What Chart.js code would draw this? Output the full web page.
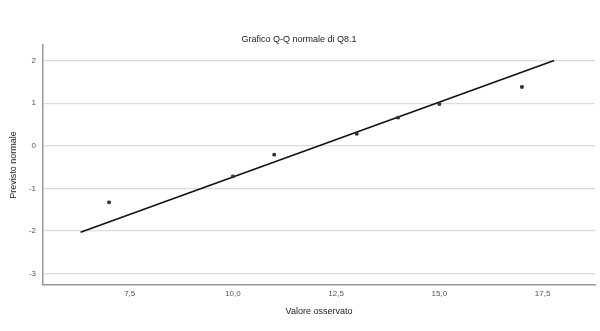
<!DOCTYPE html>
<html>
<head>
<meta charset="utf-8">
<script src="https://cdn.jsdelivr.net/npm/chart.js@4/dist/chart.umd.min.js"></script>
<style>
html,body{margin:0;padding:0;background:#fff;}
#c{display:block;}
</style>
</head>
<body>
<canvas id="c" width="600" height="331"></canvas>
<script>
const chartTitle = "Grafico Q-Q normale di Q8.1";
const xTitle = "Valore osservato";
const yTitle = "Previsto normale";
const observedValues = [7, 10, 11, 13, 14, 15, 17];
const expectedNormal = [-1.33, -0.72, -0.21, 0.28, 0.66, 0.98, 1.38];
const refLineX = [6.31, 17.78];
const refLineY = [-2.03, 2.0];
const xTickValues = [7.5, 10, 12.5, 15, 17.5];
const yTickValues = [-3, -2, -1, 0, 1, 2];

const points = observedValues.map((v, i) => ({x: v, y: expectedNormal[i]}));
const linePts = refLineX.map((v, i) => ({x: v, y: refLineY[i]}));

new Chart(document.getElementById('c'), {
  type: 'scatter',
  data: {
    datasets: [
      {
        type: 'line',
        data: linePts,
        borderColor: '#111',
        borderWidth: 1.6,
        pointRadius: 0,
        fill: false,
        order: 2
      },
      {
        data: points,
        backgroundColor: '#333',
        borderColor: '#333',
        pointRadius: 1.8,
        pointStyle: 'rect',
        order: 1
      }
    ]
  },
  options: {
    responsive: false,
    animation: false,
    layout: {padding: {right: 2, left: 0, bottom: 0, top: 0}},
    plugins: {
      legend: {display: false},
      tooltip: {enabled: false},
      title: {
        display: true,
        text: chartTitle,
        color: '#222',
        font: {family: 'Arial, Liberation Sans', size: 9, weight: 'normal'},
        padding: {top: 34, bottom: 0}
      }
    },
    scales: {
      x: {
        type: 'linear',
        min: 5.4,
        max: 18.77,
        afterBuildTicks: s => { s.ticks = xTickValues.map(v => ({value: v})); },
        afterFit: s => { s.height = 46; },
        grid: {display: false, drawTicks: false},
        border: {display: true, color: '#999', width: 1.5},
        ticks: {
          color: '#555',
          font: {family: 'Arial, Liberation Sans', size: 8},
          padding: 4,
          maxRotation: 0,
          callback: v => v.toFixed(1).replace('.', ',')
        },
        title: {
          display: true,
          text: xTitle,
          color: '#222',
          font: {family: 'Arial, Liberation Sans', size: 9},
          padding: {top: 0, bottom: 14}
        }
      },
      y: {
        type: 'linear',
        min: -3.27,
        max: 2.37,
        afterBuildTicks: s => { s.ticks = yTickValues.map(v => ({value: v})); },
        afterFit: s => { s.width = 43; },
        grid: {display: true, color: '#dcdcdc', lineWidth: 1.2, drawTicks: false},
        border: {display: true, color: '#999', width: 1.5},
        ticks: {
          color: '#555',
          font: {family: 'Arial, Liberation Sans', size: 8},
          padding: 7,
          callback: v => String(v)
        },
        title: {
          display: true,
          text: yTitle,
          color: '#222',
          font: {family: 'Arial, Liberation Sans', size: 9},
          padding: {top: 8, bottom: 0}
        }
      }
    }
  }
});
</script>
</body>
</html>
